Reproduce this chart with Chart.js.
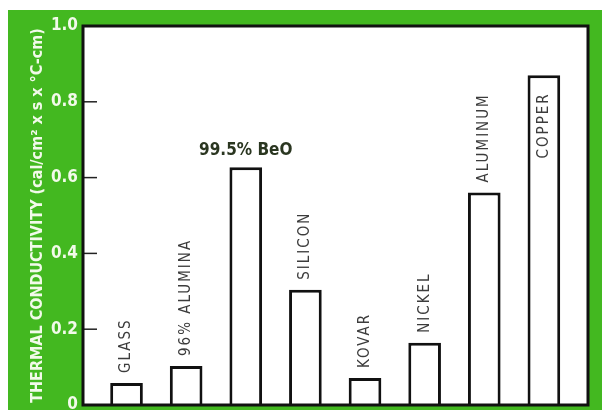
<!DOCTYPE html>
<html>
<head>
<meta charset="utf-8">
<script src="https://cdn.jsdelivr.net/npm/chart.js@4.4.1/dist/chart.umd.min.js"></script>
<style>
    html, body { margin: 0; padding: 0; background: #fff; }
    #panel { position: absolute; left: 8px; top: 10px; width: 594px; height: 400px; background: #43b820; }
</style>
</head>
<body>
<div id="panel"><canvas id="c" width="594" height="400"></canvas></div>
<script>
const categories = ['GLASS', '96% ALUMINA', '99.5% BeO', 'SILICON', 'KOVAR', 'NICKEL', 'ALUMINUM', 'COPPER'];
const conductivity = [0.058, 0.103, 0.627, 0.304, 0.071, 0.164, 0.561, 0.870];
const yTickLabels = ['0', '0.2', '0.4', '0.6', '0.8', '1.0'];
const highlighted = '99.5% BeO';
const yTitle = 'THERMAL CONDUCTIVITY (cal/cm² x s x °C-cm)';

const condensed = '"Liberation Sans Narrow", "DejaVu Sans Condensed", "Roboto Condensed", sans-serif';

// white plot box, inward tick marks, thick frame, bar captions
const framePlugin = {
    id: 'frame',
    beforeDraw(chart) {
        const { ctx, chartArea: a } = chart;
        ctx.save();
        ctx.fillStyle = '#fff';
        ctx.fillRect(a.left, a.top, a.right - a.left, a.bottom - a.top);
        ctx.restore();
    },
    afterDatasetsDraw(chart) {
        const { ctx, chartArea: a, scales } = chart;
        ctx.save();
        ctx.strokeStyle = '#222';
        ctx.lineWidth = 1.5;
        scales.y.ticks.forEach(t => {
            const y = scales.y.getPixelForValue(t.value);
            ctx.beginPath();
            ctx.moveTo(a.left, y);
            ctx.lineTo(a.left + 14, y);
            ctx.stroke();
        });
        ctx.lineWidth = 3;
        ctx.strokeStyle = '#111';
        ctx.strokeRect(a.left, a.top, a.right - a.left, a.bottom - a.top);

        const meta = chart.getDatasetMeta(0);
        meta.data.forEach((bar, i) => {
            const name = categories[i];
            if (name === highlighted) {
                ctx.font = 'bold 17px ' + condensed;
                ctx.letterSpacing = '0px';
                ctx.fillStyle = '#2a3620';
                ctx.textAlign = 'center';
                ctx.textBaseline = 'alphabetic';
                ctx.fillText(name, bar.x, bar.y - 12);
                return;
            }
            ctx.font = '15px ' + condensed;
            ctx.letterSpacing = '2px';
            ctx.fillStyle = '#3c3c3c';
            ctx.textAlign = 'left';
            ctx.textBaseline = 'middle';
            const w = ctx.measureText(name).width;
            let start = bar.y - 10;
            if (start - w < a.top + 6) start = bar.y + 17 + w; // no room above: put it inside the bar
            ctx.save();
            ctx.translate(bar.x, start);
            ctx.rotate(-Math.PI / 2);
            ctx.fillText(name, 0, 0);
            ctx.restore();
        });
        ctx.restore();
    }
};

new Chart(document.getElementById('c'), {
    type: 'bar',
    data: {
        datasets: [{
            data: conductivity.map((v, i) => ({ x: i, y: v })),
            backgroundColor: '#fff',
            borderColor: '#111',
            borderWidth: 3,
            barPercentage: 0.74,
            categoryPercentage: 1
        }]
    },
    options: {
        responsive: false,
        devicePixelRatio: 1,
        animation: false,
        layout: { padding: { left: 0, top: 16, right: 14, bottom: 5 } },
        plugins: { legend: { display: false }, tooltip: { enabled: false } },
        scales: {
            x: {
                type: 'linear',
                offset: false,
                min: -0.73,
                max: 7.74,
                display: false
            },
            y: {
                min: 0,
                max: 1,
                ticks: {
                    stepSize: 0.2,
                    padding: 5,
                    color: '#f2faea',
                    font: { family: condensed, size: 17, weight: 'bold' },
                    callback: (value, index) => yTickLabels[index]
                },
                grid: { display: false, drawTicks: false },
                border: { display: false },
                title: {
                    display: true,
                    text: yTitle,
                    color: '#f2faea',
                    font: { family: condensed, size: 16, weight: 'bold' },
                    padding: { top: 20, bottom: 0 }
                },
                afterFit: (scale) => {
                    scale.width = 75;
                    scale.paddingTop = 0;
                    scale.paddingBottom = 0;
                }
            }
        }
    },
    plugins: [framePlugin]
});
</script>
</body>
</html>
